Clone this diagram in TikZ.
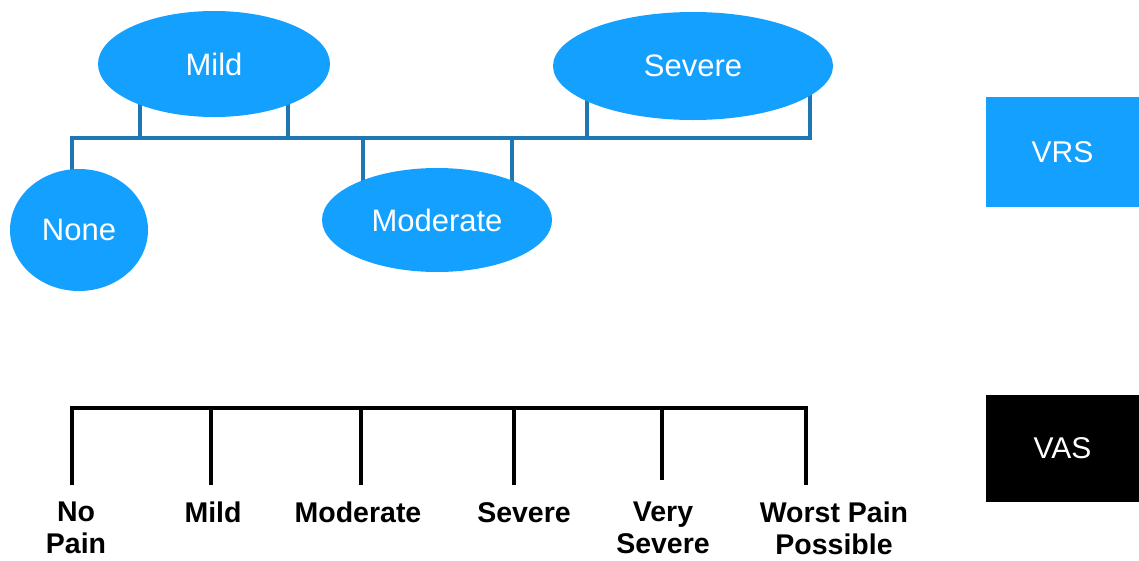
\documentclass[tikz,border=0pt]{standalone}
\usepackage{fontspec}
\setmainfont{Liberation Sans}
\usetikzlibrary{shapes.geometric,backgrounds}
\definecolor{vblue}{RGB}{20,160,255}
\definecolor{lblue}{RGB}{30,118,178}
\tikzset{
  oval/.style={ellipse, fill=vblue, text=white, inner sep=0pt, font=\fontsize{31}{36}\selectfont},
  sbox/.style={rectangle, inner sep=0pt, text=white, font=\fontsize{30}{36}\selectfont},
  bline/.style={draw=lblue, line width=4pt},
  kline/.style={draw=black, line width=4pt},
  lab/.style={font=\bfseries\fontsize{28.5}{32}\selectfont, align=center, anchor=north, inner sep=0pt}
}
\begin{document}
\begin{tikzpicture}[x=1pt,y=-1pt]
\useasboundingbox (0,0) rectangle (1139,560);
% VRS ovals
\node[oval, minimum width=232pt, minimum height=106pt] (mild) at (214,64) {Mild};
\node[oval, minimum width=280pt, minimum height=108pt] (severe) at (693,66) {Severe};
\node[oval, minimum width=138pt, minimum height=122pt] (none) at (79,230) {None};
\node[oval, minimum width=230pt, minimum height=104pt] (moderate) at (437,220) {Moderate};
% bar coordinates
\coordinate (b0) at (72,138);
\coordinate (bm1) at (140,138);
\coordinate (bm2) at (288,138);
\coordinate (bd1) at (363,138);
\coordinate (bd2) at (512,138);
\coordinate (bs1) at (587,138);
\coordinate (bs2) at (810,138);
\begin{pgfonlayer}{background}
\draw[bline, line cap=rect] (b0) -- (bs2);
\draw[bline] (b0) -- (b0 |- none.center);
\draw[bline] (bm1) -- (bm1 |- mild.center);
\draw[bline] (bm2) -- (bm2 |- mild.center);
\draw[bline] (bd1) -- (bd1 |- moderate.center);
\draw[bline] (bd2) -- (bd2 |- moderate.center);
\draw[bline] (bs1) -- (bs1 |- severe.center);
\draw[bline] (bs2) -- (bs2 |- severe.center);
\end{pgfonlayer}
% side boxes
\node[sbox, fill=vblue, minimum width=153pt, minimum height=110pt] (vrs) at (1062.5,152) {VRS};
\node[sbox, fill=black, minimum width=153pt, minimum height=107pt] (vas) at (1062.5,448.5) {VAS};
% VAS scale
\node[lab] (l1) at (76,502) {No\\Pain};
\node[lab] (l2) at (213,502) {Mild};
\node[lab] (l3) at (358,502) {Moderate};
\node[lab] (l4) at (524,502) {Severe};
\node[lab] (l5) at (663,502) {Very\\Severe};
\node[lab] (l6) at (834,502) {Worst Pain\\Possible};
\coordinate (t1) at (72,408);
\coordinate (t2) at (211,408);
\coordinate (t3) at (361,408);
\coordinate (t4) at (514,408);
\coordinate (t5) at (662,408);
\coordinate (t6) at (806,408);
\draw[kline, line cap=rect] (t1) -- (t6);
\draw[kline, shorten >=17pt] (t1) -- (t1 |- l1.north);
\draw[kline, shorten >=17pt] (t2) -- (t2 |- l2.north);
\draw[kline, shorten >=17pt] (t3) -- (t3 |- l3.north);
\draw[kline, shorten >=17pt] (t4) -- (t4 |- l4.north);
\draw[kline, shorten >=22pt] (t5) -- (t5 |- l5.north);
\draw[kline, shorten >=17pt] (t6) -- (t6 |- l6.north);
\end{tikzpicture}
\end{document}
